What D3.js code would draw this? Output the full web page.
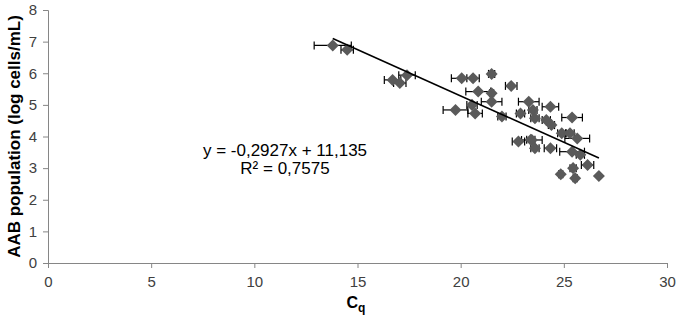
<!DOCTYPE html>
<html>
<head>
<meta charset="utf-8">
<script src="https://cdn.jsdelivr.net/npm/d3@7"></script>
<style>
  body { margin: 0; background: #fff; }
  svg { display: block; font-family: "Liberation Sans", Arial, sans-serif; }
</style>
</head>
<body>
<svg id="chart" width="681" height="326"></svg>
<script>
// Cq values, AAB population and the Cq error bars
const cq = [13.8, 14.5, 16.7, 17.05, 17.4, 20.05, 20.6, 21.5, 22.45, 20.85,
            21.5, 21.5, 20.55, 19.75, 20.7, 22.0, 23.3, 22.9, 23.5, 23.6,
            24.35, 25.4, 24.15, 24.4, 22.8, 23.45, 23.6, 24.35, 24.9, 25.3,
            25.65, 25.4, 25.8, 26.15, 24.85, 25.45, 25.55, 26.7, 23.4];
const aab = [6.88, 6.74, 5.79, 5.69, 5.94, 5.84, 5.84, 5.98, 5.6, 5.42,
             5.37, 5.1, 5.0, 4.84, 4.73, 4.63, 5.1, 4.73, 4.84, 4.58,
             4.94, 4.6, 4.52, 4.36, 3.84, 3.89, 3.63, 3.63, 4.1, 4.1,
             3.94, 3.52, 3.42, 3.1, 2.81, 3.0, 2.68, 2.75, 3.9];
const cqErr = [0.9, 0.3, 0.4, 0.3, 0.4, 0.5, 0.3, 0.15, 0.28, 0.6,
               0.1, 0.5, 0.25, 0.6, 0.35, 0.2, 0.5, 0.2, 0.2, 0.2,
               0.4, 0.5, 0.2, 0.15, 0.3, 0.5, 0.2, 0.3, 0.2, 0.2,
               0.6, 0.6, 0.2, 0.3, 0.1, 0.15, 0.1, 0.05, 0.2];

const xTicks = [0, 5, 10, 15, 20, 25, 30];
const yTicks = [0, 1, 2, 3, 4, 5, 6, 7, 8];

// linear fit shown on the figure
const slope = -0.2927, intercept = 11.135;
const fitRange = [13.8, 26.7];
const eqText = 'y = -0,2927x + 11,135';
const r2Text = 'R² = 0,7575';

const svg = d3.select('#chart');
const margin = { left: 48, right: 14, top: 10, bottom: 63 };
const W = 681, H = 326;

const x = d3.scaleLinear().domain([0, 30]).range([margin.left, W - margin.right]);
const y = d3.scaleLinear().domain([0, 8]).range([H - margin.bottom, margin.top]);

const axisColor = '#868686';
const textColor = '#404040';

// Axes
const xAxis = svg.append('g')
    .attr('transform', `translate(0,${y(0)})`)
    .call(d3.axisBottom(x).tickValues(xTicks).tickSize(5).tickPadding(8));
const yAxis = svg.append('g')
    .attr('transform', `translate(${x(0)},0)`)
    .call(d3.axisLeft(y).tickValues(yTicks).tickSize(5).tickPadding(6));

[xAxis, yAxis].forEach(a => {
    a.select('.domain').attr('stroke', axisColor);
    a.selectAll('.tick line').attr('stroke', axisColor);
    a.selectAll('.tick text')
        .attr('fill', textColor)
        .style('font-size', '15px');
});

// Error bars
const bars = svg.append('g').attr('stroke', '#000').attr('stroke-width', 1.2);
cq.forEach((v, i) => {
    const py = y(aab[i]);
    const x1 = x(v - cqErr[i]), x2 = x(v + cqErr[i]);
    bars.append('line').attr('x1', x1).attr('x2', x2).attr('y1', py).attr('y2', py);
    bars.append('line').attr('x1', x1).attr('x2', x1).attr('y1', py - 4).attr('y2', py + 4);
    bars.append('line').attr('x1', x2).attr('x2', x2).attr('y1', py - 4).attr('y2', py + 4);
});

// Diamonds
const diamond = d3.symbol().type(d3.symbolDiamond2).size(92);
svg.append('g').selectAll('path')
    .data(cq)
    .join('path')
    .attr('d', diamond)
    .attr('transform', (d, i) => `translate(${x(d)},${y(aab[i])})`)
    .attr('fill', '#5a5a5a');

// Trend line
svg.append('line')
    .attr('x1', x(fitRange[0])).attr('y1', y(slope * fitRange[0] + intercept))
    .attr('x2', x(fitRange[1])).attr('y2', y(slope * fitRange[1] + intercept))
    .attr('stroke', '#000')
    .attr('stroke-width', 1.6);

// Equation
svg.append('text')
    .attr('x', 285).attr('y', 156)
    .attr('text-anchor', 'middle')
    .style('font-size', '17px')
    .attr('fill', '#000')
    .text(eqText);
svg.append('text')
    .attr('x', 285).attr('y', 174)
    .attr('text-anchor', 'middle')
    .style('font-size', '17px')
    .attr('fill', '#000')
    .text(r2Text);

// Axis titles
svg.append('text')
    .attr('transform', `translate(16,${(y(0) + y(8)) / 2}) rotate(-90)`)
    .attr('text-anchor', 'middle')
    .attr('dominant-baseline', 'middle')
    .style('font-size', '17px')
    .style('font-weight', 'bold')
    .attr('fill', '#000')
    .text('AAB population (log cells/mL)');

const xt = svg.append('text')
    .attr('x', 356).attr('y', 308)
    .attr('text-anchor', 'middle')
    .style('font-size', '16px')
    .style('font-weight', 'bold')
    .attr('fill', '#000');
xt.append('tspan').text('C');
xt.append('tspan').attr('dy', 4).style('font-size', '12px').text('q');
</script>
</body>
</html>
